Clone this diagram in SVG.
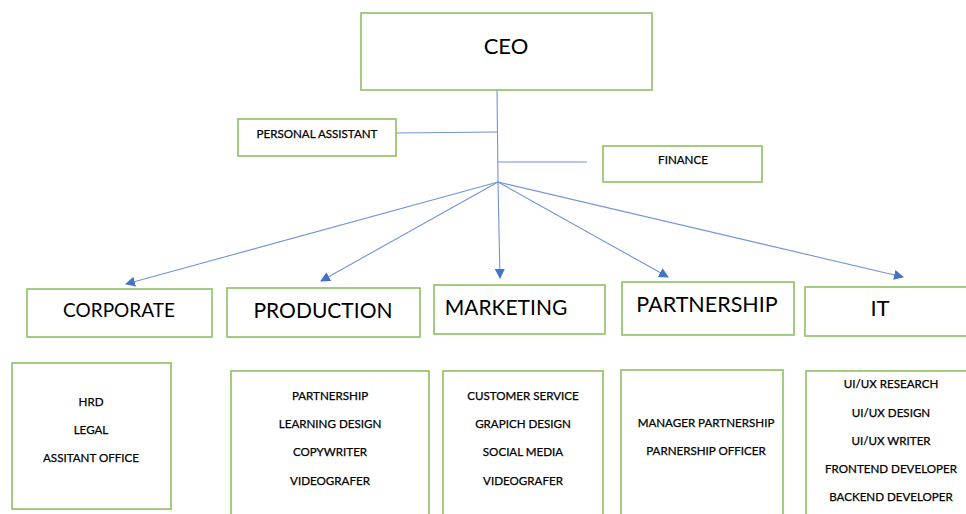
<svg xmlns="http://www.w3.org/2000/svg" width="966" height="514" viewBox="0 0 966 514">
<defs>
<marker id="ah" viewBox="0 0 10 10" refX="9" refY="5" markerWidth="10" markerHeight="10" markerUnits="userSpaceOnUse" orient="auto">
<path d="M0,0 L10,5 L0,10 Z" fill="#4472C4"/>
</marker>
<style>
.box{fill:#fff;stroke:#8BC063;stroke-width:1.6}
.t{font-family:Lato,"Liberation Sans",sans-serif;fill:#000;text-anchor:middle}
.sm{font-size:11.6px;stroke:#000;stroke-width:0.25}
.ln{fill:none;stroke:#7095D8;stroke-width:1.1}
</style>
</defs>
<rect width="966" height="514" fill="#fff"/>
<g id="connectors">
<path class="ln" d="M497,88 L498,182"/>
<path class="ln" d="M396,133 L497,132"/>
<path class="ln" d="M498,162 L587,162"/>
<path class="ln" d="M498,182 L126,284" marker-end="url(#ah)"/>
<path class="ln" d="M498,182 L321,281" marker-end="url(#ah)"/>
<path class="ln" d="M498,182 L500,278" marker-end="url(#ah)"/>
<path class="ln" d="M498,182 L668,277" marker-end="url(#ah)"/>
<path class="ln" d="M498,182 L903,277" marker-end="url(#ah)"/>
</g>
<g id="ceo"><rect class="box" x="361" y="13" width="291" height="77"/><text class="t" x="506" y="54" font-size="22">CEO</text></g>
<g id="personal-assistant"><rect class="box" x="238" y="119" width="158" height="37"/><text class="t sm" x="317" y="138">PERSONAL ASSISTANT</text></g>
<g id="finance"><rect class="box" x="603" y="146" width="159" height="36"/><text class="t sm" x="683" y="164">FINANCE</text></g>
<g id="corporate"><rect class="box" x="27" y="289" width="185" height="48"/><text class="t" x="119" y="317" font-size="19">CORPORATE</text></g>
<g id="production"><rect class="box" x="227" y="288" width="193" height="49"/><text class="t" x="323" y="318" font-size="21">PRODUCTION</text></g>
<g id="marketing"><rect class="box" x="434" y="285" width="171" height="49"/><text class="t" x="506" y="315" font-size="21">MARKETING</text></g>
<g id="partnership"><rect class="box" x="622" y="282" width="172" height="53"/><text class="t" x="707" y="312" font-size="21.5">PARTNERSHIP</text></g>
<g id="it"><rect class="box" x="805" y="287" width="170" height="49"/><text class="t" x="880" y="316" font-size="22">IT</text></g>
<g id="corporate-list"><rect class="box" x="12" y="363" width="159" height="146"/>
<text class="t sm" x="91" y="406">HRD</text><text class="t sm" x="91" y="434">LEGAL</text><text class="t sm" x="91" y="462">ASSITANT OFFICE</text></g>
<g id="production-list"><rect class="box" x="231" y="371" width="198" height="150"/>
<text class="t sm" x="330" y="400">PARTNERSHIP</text><text class="t sm" x="330" y="428">LEARNING DESIGN</text><text class="t sm" x="330" y="456">COPYWRITER</text><text class="t sm" x="330" y="485">VIDEOGRAFER</text></g>
<g id="marketing-list"><rect class="box" x="443" y="371" width="160" height="150"/>
<text class="t sm" x="523" y="400">CUSTOMER SERVICE</text><text class="t sm" x="523" y="428">GRAPICH DESIGN</text><text class="t sm" x="523" y="456">SOCIAL MEDIA</text><text class="t sm" x="523" y="485">VIDEOGRAFER</text></g>
<g id="partnership-list"><rect class="box" x="621" y="370" width="162" height="151"/>
<text class="t sm" x="706" y="427">MANAGER PARTNERSHIP</text><text class="t sm" x="706" y="455">PARNERSHIP OFFICER</text></g>
<g id="it-list"><rect class="box" x="806" y="371" width="170" height="150"/>
<text class="t sm" x="891" y="388">UI/UX RESEARCH</text><text class="t sm" x="891" y="417">UI/UX DESIGN</text><text class="t sm" x="891" y="445">UI/UX WRITER</text><text class="t sm" x="891" y="473">FRONTEND DEVELOPER</text><text class="t sm" x="891" y="501">BACKEND DEVELOPER</text><text class="t sm" x="891" y="522">WORDPRESS</text></g>
</svg>
